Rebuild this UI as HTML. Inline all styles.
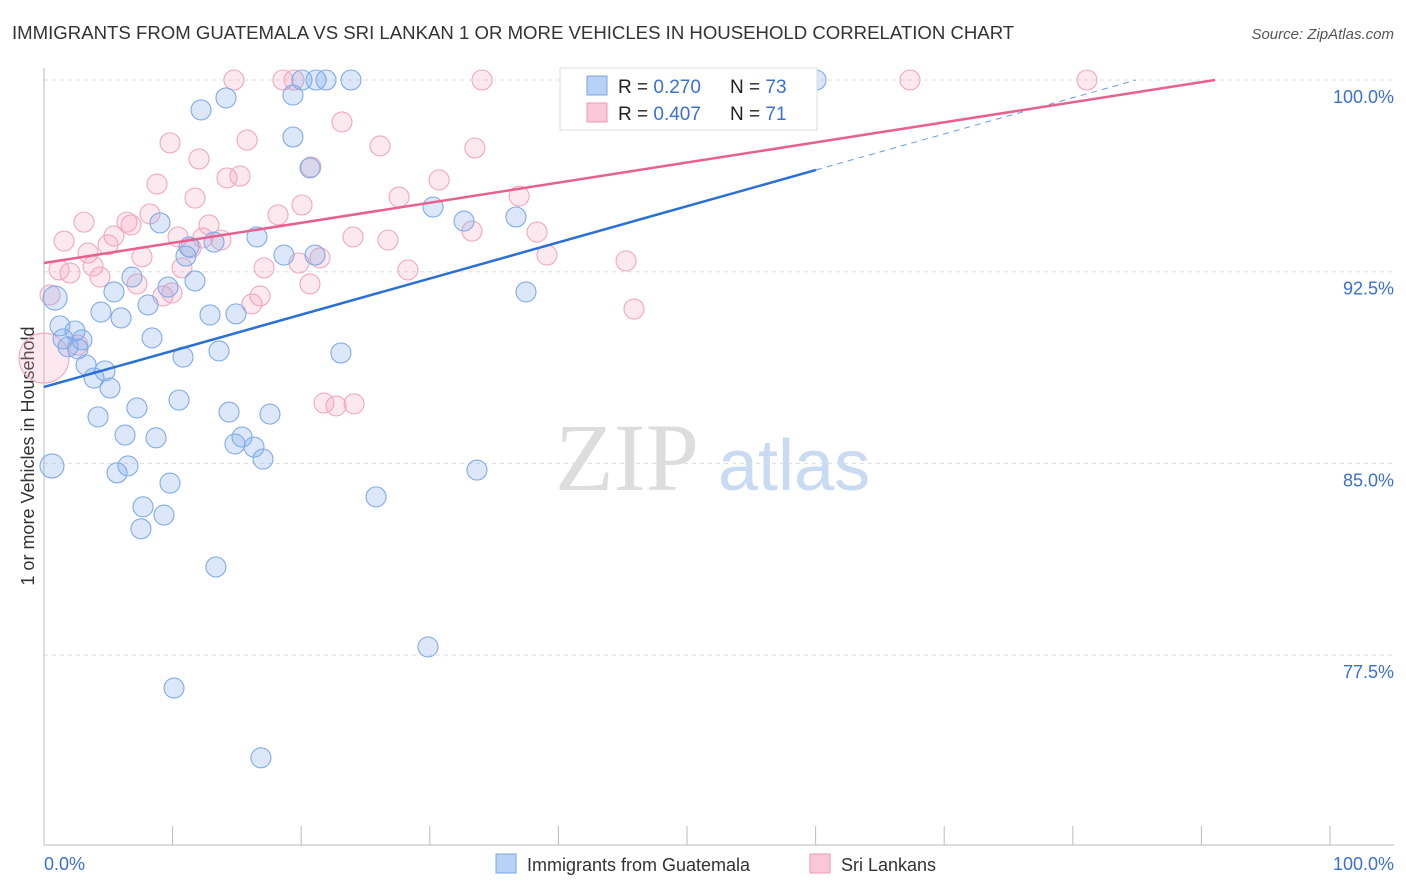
<!DOCTYPE html>
<html><head><meta charset="utf-8"><style>
body{margin:0;background:#fff;font-family:"Liberation Sans",sans-serif;}
svg{display:block}
</style></head><body>
<svg id="chart" width="1406" height="892">
<text x="12" y="39" font-size="18.6" fill="#333">IMMIGRANTS FROM GUATEMALA VS SRI LANKAN 1 OR MORE VEHICLES IN HOUSEHOLD CORRELATION CHART</text>
<text x="1394" y="39" font-size="15" fill="#555" font-style="italic" text-anchor="end">Source: ZipAtlas.com</text>
<text x="0" y="0" transform="translate(34,456) rotate(-90)" font-size="18" fill="#333" text-anchor="middle">1 or more Vehicles in Household</text>
<text x="555" y="490" font-size="96" fill="#ddd" font-family="Liberation Serif,serif">ZIP</text>
<text x="718" y="490" font-size="72" fill="#c9dbf2">atlas</text>
<g id="grid"></g><g id="marks"></g><g id="lines"></g>
<text x="44" y="870" font-size="18" fill="#3b6fd4">0.0%</text>
<text x="1394" y="870" font-size="18" fill="#3b6fd4" text-anchor="end">100.0%</text>
<g>
<rect x="560" y="68" width="257" height="62" fill="#fff" stroke="#ddd"/>
<rect x="587" y="76" width="20" height="19" fill="#b8d2f5" stroke="#7aa6e8"/>
<rect x="587" y="103" width="20" height="19" fill="#f9c7d6" stroke="#ef9ab5"/>
<text x="618" y="93" font-size="19" fill="#222">R = <tspan fill="#3b6fd4">0.270</tspan></text>
<text x="730" y="93" font-size="19" fill="#222">N = <tspan fill="#3b6fd4">73</tspan></text>
<text x="618" y="120" font-size="19" fill="#222">R = <tspan fill="#3b6fd4">0.407</tspan></text>
<text x="730" y="120" font-size="19" fill="#222">N = <tspan fill="#3b6fd4"> 71</tspan></text>
</g>
<g>
<rect x="496" y="854" width="20" height="19" fill="#b8d2f5" stroke="#7aa6e8"/>
<text x="527" y="871" font-size="18" fill="#333">Immigrants from Guatemala</text>
<rect x="810" y="854" width="20" height="19" fill="#f9c7d6" stroke="#ef9ab5"/>
<text x="841" y="871" font-size="18" fill="#333">Sri Lankans</text>
</g>
</svg>
<script>
const yTicks=[100,92.5,85,77.5];
const yTickLabels=["100.0%","92.5%","85.0%","77.5%"];
const xTicks=[0,10,20,30,40,50,60,70,80,90,100];
const blueX=[14.15,12.21,19.36,20.06,21.15,21.93,23.87,60.03,19.36,20.68,9.02,16.56,11.28,11.04,18.66,21.07,13.22,30.25,32.66,36.70,6.84,5.44,11.74,9.64,8.09,4.43,5.99,12.91,14.93,1.24,2.41,1.48,2.95,1.87,2.64,8.40,10.81,13.61,23.09,3.27,4.74,3.89,5.13,37.48,7.23,4.20,10.50,14.39,17.57,6.30,8.71,15.40,14.85,16.33,17.03,0.62,6.53,5.68,9.80,25.82,33.67,7.70,9.33,7.54,13.37,29.86,10.11,16.87,0.86];
const blueY=[99.30,98.83,99.41,100,100,100,100,100,97.77,96.56,94.41,93.86,93.47,93.11,93.15,93.15,93.66,95.03,94.48,94.64,92.29,91.71,92.14,91.90,91.20,90.92,90.69,90.81,90.85,90.38,90.18,89.87,89.83,89.56,89.48,89.91,89.16,89.40,89.32,88.85,88.62,88.34,87.95,91.71,87.17,86.82,87.48,87.01,86.93,86.11,86.00,86.03,85.76,85.64,85.17,84.90,84.90,84.63,84.23,83.69,84.74,83.30,82.98,82.44,80.95,77.82,76.21,73.48,91.47];
const pinkX=[14.77,18.58,19.44,34.06,41.68,52.26,67.34,81.10,9.80,15.79,23.17,26.13,33.51,12.05,8.79,14.23,15.24,20.76,30.72,11.74,27.61,36.94,3.11,8.24,6.45,6.77,12.83,18.20,20.06,1.56,5.44,4.98,24.03,26.75,33.28,38.34,10.42,12.36,13.76,3.42,7.62,11.43,19.83,17.11,21.46,28.30,39.11,45.26,2.02,1.17,3.81,4.35,10.73,7.23,20.68,9.25,9.95,16.80,16.17,45.88,0.47,0,2.64,21.77,22.71,24.11];
const pinkY=[100,100,100,100,100,100,100,100,97.54,97.65,98.36,97.42,97.34,96.91,95.93,96.17,96.24,96.60,96.09,95.38,95.42,95.46,94.44,94.76,94.44,94.33,94.33,94.72,95.11,93.70,93.90,93.55,93.86,93.74,94.09,94.05,93.86,93.82,93.74,93.23,93.08,93.43,92.84,92.65,93.04,92.57,93.15,92.92,92.45,92.57,92.72,92.29,92.65,92.02,92.02,91.55,91.67,91.55,91.24,91.04,91.59,89.12,89.63,87.36,87.25,87.33];
const blueTrend=[87.99,96.48];
const blueTrendEndX=60.03;
const pinkTrend=[92.84,100];
const pinkTrendEndX=91.06;
const NS="http://www.w3.org/2000/svg";
const X=v=>44+v*12.86;
const Y=v=>80+(100-v)*25.56;
function mk(t,a,p){const e=document.createElementNS(NS,t);for(const k in a)e.setAttribute(k,a[k]);p.appendChild(e);return e;}
const grid=document.getElementById('grid');
yTicks.forEach((t,i)=>{
 const l=mk('line',{x1:44,x2:1394,y1:Y(t),y2:Y(t),stroke:'#ddd','stroke-dasharray':'4,4'},grid);
 
 
 const tx=mk('text',{x:1394,y:Y(t)+23,'font-size':18,fill:'#3b6fd4','text-anchor':'end'},grid);
 tx.textContent=yTickLabels[i];
 
 
});
const ax=mk('line',{x1:44,x2:44,y1:68,y2:845,stroke:'#bbb'},grid);


const bx=mk('line',{x1:44,x2:1394,y1:845,y2:845,stroke:'#bbb'},grid);


xTicks.forEach(t=>{
 const l=mk('line',{x1:X(t),x2:X(t),y1:826,y2:845,stroke:'#bbb'},grid);
 
 
});
const marks=document.getElementById('marks');
function dots(xs,ys,fill,stroke,name){
 xs.forEach((x,i)=>{
  const big=(x<1.0&&(name==='guatemala-point'||ys[i]<90));
  const c=mk('circle',{cx:X(x),cy:Y(ys[i]),r:x===0?25:(big?12:10),fill:fill,stroke:stroke,'stroke-width':1.1},marks);
  
  
 });
}
dots(pinkX,pinkY,'rgba(244,165,190,0.25)','#f0a8c0','srilankan-point');
dots(blueX,blueY,'rgba(130,172,232,0.28)','#80abe8','guatemala-point');
const lines=document.getElementById('lines');
const slope=(blueTrend[1]-blueTrend[0])/blueTrendEndX;
const b1=mk('line',{x1:X(0),y1:Y(blueTrend[0]),x2:X(blueTrendEndX),y2:Y(blueTrend[1]),stroke:'#2a6fd6','stroke-width':2.5},lines);


const endX=(100-blueTrend[0])/slope;
const b2=mk('line',{x1:X(blueTrendEndX),y1:Y(blueTrend[1]),x2:X(endX),y2:Y(100),stroke:'#6a9be3','stroke-width':1,'stroke-dasharray':'6,5'},lines);


const p1=mk('line',{x1:X(0),y1:Y(pinkTrend[0]),x2:X(pinkTrendEndX),y2:Y(pinkTrend[1]),stroke:'#e8608e','stroke-width':2.5},lines);


</script>
</body></html>
